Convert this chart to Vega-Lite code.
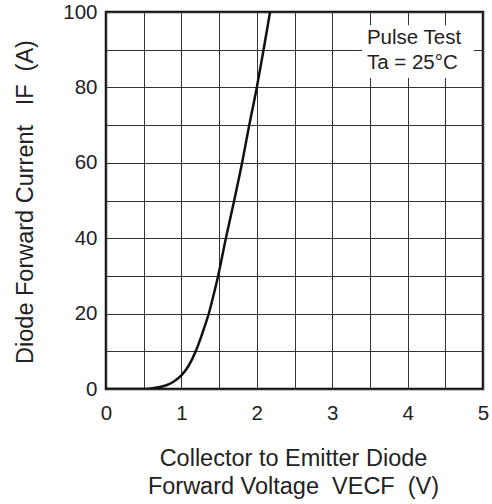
{
  "$schema": "https://vega.github.io/schema/vega-lite/v6.json",
  "width": 377,
  "height": 377,
  "autosize": "none",
  "padding": {"left": 106, "top": 12, "right": 9, "bottom": 115},
  "background": "white",
  "config": {
    "font": "Liberation Sans",
    "view": {"stroke": "#111", "strokeWidth": 2.5},
    "axis": {
      "grid": true,
      "gridColor": "#333",
      "gridWidth": 1,
      "gridOpacity": 1,
      "domain": false,
      "ticks": false,
      "labelFontSize": 20.5,
      "labelColor": "#222",
      "labelFont": "Liberation Sans",
      "labelFlush": false,
      "labelOverlap": false,
      "titleFontSize": 23.5,
      "titleColor": "#222",
      "titleFont": "Liberation Sans",
      "titleFontWeight": "normal"
    }
  },
  "layer": [
    {
      "data": {
        "values": [
          {"v": 0, "i": 0},
          {"v": 0.5, "i": 0},
          {"v": 0.6, "i": 0.15},
          {"v": 0.7, "i": 0.45},
          {"v": 0.8, "i": 1.0},
          {"v": 0.9, "i": 2.0},
          {"v": 1.0, "i": 3.6},
          {"v": 1.1, "i": 6.3},
          {"v": 1.19, "i": 10},
          {"v": 1.28, "i": 14.9},
          {"v": 1.37, "i": 20.5},
          {"v": 1.43, "i": 25.2},
          {"v": 1.487, "i": 30},
          {"v": 1.59, "i": 40},
          {"v": 1.7, "i": 50},
          {"v": 1.805, "i": 60},
          {"v": 1.9, "i": 70},
          {"v": 2.0, "i": 80},
          {"v": 2.09, "i": 90},
          {"v": 2.176, "i": 100}
        ]
      },
      "mark": {"type": "line", "color": "#111", "strokeWidth": 2.5, "interpolate": "monotone", "clip": true},
      "encoding": {
        "x": {
          "field": "v",
          "type": "quantitative",
          "scale": {"domain": [0, 5], "nice": false, "zero": false},
          "axis": {
            "values": [0, 0.5, 1, 1.5, 2, 2.5, 3, 3.5, 4, 4.5, 5],
            "labelExpr": "datum.value % 1 === 0 ? format(datum.value, 'd') : ''",
            "labelPadding": 14,
            "title": ["Collector to Emitter Diode", "Forward Voltage\u00a0\u00a0VECF\u00a0\u00a0(V)"],
            "titleLineHeight": 28.3,
            "titleBaseline": "top",
            "titleY": 57,
            "titleX": 187,
            "titleAlign": "center"
          }
        },
        "y": {
          "field": "i",
          "type": "quantitative",
          "scale": {"domain": [0, 100], "nice": false},
          "axis": {
            "values": [0, 10, 20, 30, 40, 50, 60, 70, 80, 90, 100],
            "labelExpr": "datum.value % 20 === 0 ? format(datum.value, 'd') : ''",
            "labelPadding": 9,
            "title": "Diode Forward Current\u00a0\u00a0\u00a0IF\u00a0\u00a0(A)",
            "titleX": -81,
            "titleY": 189.5,
            "titleAngle": -90,
            "titleAlign": "center",
            "titleBaseline": "middle"
          }
        }
      }
    },
    {
      "data": {"values": [{}]},
      "mark": {"type": "rect", "fill": "white", "stroke": null},
      "encoding": {
        "x": {
          "datum": 3.4,
          "type": "quantitative",
          "axis": {
            "values": [0, 0.5, 1, 1.5, 2, 2.5, 3, 3.5, 4, 4.5, 5],
            "labelExpr": "datum.value % 1 === 0 ? format(datum.value, 'd') : ''",
            "labelPadding": 14,
            "title": ["Collector to Emitter Diode", "Forward Voltage\u00a0\u00a0VECF\u00a0\u00a0(V)"],
            "titleLineHeight": 28.3,
            "titleBaseline": "top",
            "titleY": 57,
            "titleX": 187,
            "titleAlign": "center"
          }
        },
        "x2": {"datum": 4.88},
        "y": {
          "datum": 82.5,
          "type": "quantitative",
          "axis": {
            "values": [0, 10, 20, 30, 40, 50, 60, 70, 80, 90, 100],
            "labelExpr": "datum.value % 20 === 0 ? format(datum.value, 'd') : ''",
            "labelPadding": 9,
            "title": "Diode Forward Current\u00a0\u00a0\u00a0IF\u00a0\u00a0(A)",
            "titleX": -81,
            "titleY": 189.5,
            "titleAngle": -90,
            "titleAlign": "center",
            "titleBaseline": "middle"
          }
        },
        "y2": {"datum": 96.5}
      }
    },
    {
      "data": {"values": [{}]},
      "mark": {"type": "text", "text": "Pulse Test", "fontSize": 20.5, "fontWeight": "normal", "align": "left", "baseline": "alphabetic", "color": "#222"},
      "encoding": {
        "x": {
          "datum": 3.46,
          "type": "quantitative",
          "axis": {
            "values": [0, 0.5, 1, 1.5, 2, 2.5, 3, 3.5, 4, 4.5, 5],
            "labelExpr": "datum.value % 1 === 0 ? format(datum.value, 'd') : ''",
            "labelPadding": 14,
            "title": ["Collector to Emitter Diode", "Forward Voltage\u00a0\u00a0VECF\u00a0\u00a0(V)"],
            "titleLineHeight": 28.3,
            "titleBaseline": "top",
            "titleY": 57,
            "titleX": 187,
            "titleAlign": "center"
          }
        },
        "y": {
          "datum": 91.5,
          "type": "quantitative",
          "axis": {
            "values": [0, 10, 20, 30, 40, 50, 60, 70, 80, 90, 100],
            "labelExpr": "datum.value % 20 === 0 ? format(datum.value, 'd') : ''",
            "labelPadding": 9,
            "title": "Diode Forward Current\u00a0\u00a0\u00a0IF\u00a0\u00a0(A)",
            "titleX": -81,
            "titleY": 189.5,
            "titleAngle": -90,
            "titleAlign": "center",
            "titleBaseline": "middle"
          }
        }
      }
    },
    {
      "data": {"values": [{}]},
      "mark": {"type": "text", "text": "Ta = 25°C", "fontSize": 20.5, "fontWeight": "normal", "align": "left", "baseline": "alphabetic", "color": "#222"},
      "encoding": {
        "x": {
          "datum": 3.46,
          "type": "quantitative",
          "axis": {
            "values": [0, 0.5, 1, 1.5, 2, 2.5, 3, 3.5, 4, 4.5, 5],
            "labelExpr": "datum.value % 1 === 0 ? format(datum.value, 'd') : ''",
            "labelPadding": 14,
            "title": ["Collector to Emitter Diode", "Forward Voltage\u00a0\u00a0VECF\u00a0\u00a0(V)"],
            "titleLineHeight": 28.3,
            "titleBaseline": "top",
            "titleY": 57,
            "titleX": 187,
            "titleAlign": "center"
          }
        },
        "y": {
          "datum": 84.9,
          "type": "quantitative",
          "axis": {
            "values": [0, 10, 20, 30, 40, 50, 60, 70, 80, 90, 100],
            "labelExpr": "datum.value % 20 === 0 ? format(datum.value, 'd') : ''",
            "labelPadding": 9,
            "title": "Diode Forward Current\u00a0\u00a0\u00a0IF\u00a0\u00a0(A)",
            "titleX": -81,
            "titleY": 189.5,
            "titleAngle": -90,
            "titleAlign": "center",
            "titleBaseline": "middle"
          }
        }
      }
    }
  ]
}
